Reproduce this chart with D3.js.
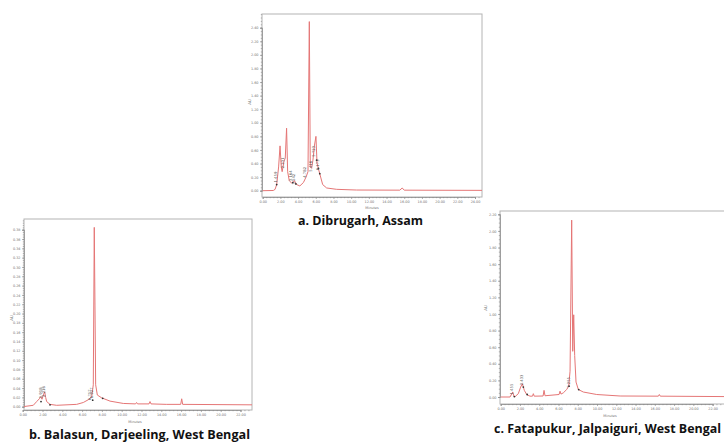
<!DOCTYPE html>
<html>
<head>
<meta charset="utf-8">
<script src="https://cdn.jsdelivr.net/npm/d3@7"></script>
<style>
  body { margin: 0; background: #fff; }
  svg { display: block; }
</style>
</head>
<body>
<div id="chart"></div>
<script>
// ---- data (minutes, AU) ----

// a. Dibrugarh, Assam
const aTime = [0, 1.2, 1.4, 1.58, 1.8, 1.96, 2.1, 2.2, 2.4, 2.55, 2.7, 2.82, 3.0, 3.27, 3.57, 3.84, 4.2, 4.6, 4.9, 5.12, 5.27, 5.38, 5.53, 5.68, 5.83, 6.02, 6.14, 6.28, 6.47, 6.78, 7.23, 8.36, 10.6, 15.5, 15.77, 16.0, 24.8];
const aAU = [0, 0.003, 0.02, 0.09, 0.35, 0.66, 0.35, 0.28, 0.43, 0.48, 0.92, 0.28, 0.15, 0.11, 0.15, 0.09, 0.07, 0.12, 0.2, 0.28, 2.49, 0.35, 0.33, 0.45, 0.65, 0.80, 0.41, 0.33, 0.24, 0.09, 0.04, 0.02, 0.01, 0.008, 0.04, 0.008, 0.005];
const aPeakText = ["1.459", "2.331", "3.164", "3.542", "4.782", "5.416", "5.723", "6.173"];
const aPeakTime = [1.58, 2.45, 3.3, 3.7, 4.95, 5.6, 5.9, 6.35];
const aPeakAU = [0.12, 0.33, 0.14, 0.09, 0.19, 0.28, 0.50, 0.30];
const aMarkTime = [1.58, 3.4, 3.75, 6.1, 6.3, 6.45];
const aMarkAU = [0.09, 0.12, 0.1, 0.45, 0.33, 0.25];
const aXTicks = [0, 2, 4, 6, 8, 10, 12, 14, 16, 18, 20, 22, 24];
const aYTicks = [0, 0.2, 0.4, 0.6, 0.8, 1.0, 1.2, 1.4, 1.6, 1.8, 2.0, 2.2, 2.4];

// b. Balasun, Darjeeling, West Bengal
const bTime = [0, 1.07, 1.41, 1.68, 1.82, 1.95, 2.12, 2.22, 2.32, 2.42, 2.76, 3.43, 5.45, 6.12, 6.63, 6.97, 7.13, 7.23, 7.37, 7.54, 7.98, 8.82, 10.16, 11.4, 11.5, 11.6, 12.76, 12.86, 12.96, 14.5, 15.96, 16.06, 16.16, 23.2];
const bAU = [0, 0.003, 0.011, 0.017, 0.0215, 0.016, 0.027, 0.032, 0.02, 0.011, 0.005, 0.003, 0.005, 0.009, 0.015, 0.022, 0.047, 0.385, 0.047, 0.025, 0.019, 0.012, 0.007, 0.006, 0.009, 0.006, 0.006, 0.011, 0.006, 0.005, 0.005, 0.017, 0.005, 0.004];
const bPeakText = ["1.918", "2.216", "6.757", "6.927"];
const bPeakTime = [1.95, 2.3, 6.85, 7.1];
const bPeakAU = [0.018, 0.021, 0.014, 0.018];
const bMarkTime = [1.85, 2.76, 7.07, 8.08];
const bMarkAU = [0.011, 0.004, 0.014, 0.018];
const bXTicks = [0, 2, 4, 6, 8, 10, 12, 14, 16, 18, 20, 22];
const bYTicks = [0, 0.02, 0.04, 0.06, 0.08, 0.10, 0.12, 0.14, 0.16, 0.18, 0.20, 0.22, 0.24, 0.26, 0.28, 0.30, 0.32, 0.34, 0.36, 0.38];

// c. Fatapukur, Jalpaiguri, West Bengal
const cTime = [0, 0.97, 1.25, 1.38, 1.5, 1.83, 2.07, 2.25, 2.45, 2.7, 3.04, 3.3, 3.39, 3.48, 4.4, 4.5, 4.6, 6.06, 6.16, 6.26, 6.5, 6.85, 7.06, 7.2, 7.37, 7.48, 7.58, 7.68, 7.82, 8.06, 8.58, 9.97, 12.4, 16.37, 16.47, 16.57, 23.2];
const cAU = [0, 0, 0.06, 0.005, 0.005, 0.04, 0.12, 0.16, 0.08, 0.03, 0.01, 0.01, 0.04, 0.01, 0.012, 0.08, 0.015, 0.03, 0.07, 0.035, 0.05, 0.09, 0.13, 0.31, 2.13, 0.55, 0.99, 0.5, 0.18, 0.09, 0.06, 0.03, 0.012, 0.01, 0.03, 0.01, 0.005];
const cPeakText = ["1.455", "2.433", "7.255"];
const cPeakTime = [1.3, 2.3, 7.15];
const cPeakAU = [0.03, 0.14, 0.11];
const cMarkTime = [1.42, 2.35, 2.75, 7.1, 8.1];
const cMarkAU = [0.005, 0.12, 0.03, 0.13, 0.09];
const cXTicks = [0, 2, 4, 6, 8, 10, 12, 14, 16, 18, 20, 22];
const cYTicks = [0, 0.2, 0.4, 0.6, 0.8, 1.0, 1.2, 1.4, 1.6, 1.8, 2.0, 2.2];

// ---- layout ----
const svg = d3.select("#chart")
    .append("svg")
    .attr("width", 724)
    .attr("height", 443);

const traceColor = "#e57676";
const fmt = d3.format(".2f");

function drawPanel(p) {
    const x = d3.scaleLinear().domain([0, p.xMaxTick]).range([p.x0, p.xMaxPx]);
    const y = d3.scaleLinear().domain([0, p.yMaxTick]).range([p.y0, p.yMaxPx]);
    const xEnd = x.invert(p.right);

    const g = svg.append("g");

    // plot frame
    g.append("rect")
        .attr("x", p.left).attr("y", p.top)
        .attr("width", p.right - p.left).attr("height", p.bottom - p.top)
        .attr("fill", "none")
        .attr("stroke", "#b4b4b4")
        .attr("stroke-width", 1);

    // x axis (major + minor ticks)
    g.append("g")
        .attr("transform", `translate(0,${p.bottom})`)
        .call(d3.axisBottom(x).tickValues(p.xTicks).tickFormat(fmt).tickSize(2).tickPadding(1.2));
    g.append("g")
        .attr("transform", `translate(0,${p.bottom})`)
        .call(d3.axisBottom(x).tickValues(d3.range(0, xEnd, 0.4)).tickFormat("").tickSize(1.2));

    // y axis
    g.append("g")
        .attr("transform", `translate(${p.left},0)`)
        .call(d3.axisLeft(y).tickValues(p.yTicks).tickFormat(fmt).tickSize(2).tickPadding(1.5));
    g.append("g")
        .attr("transform", `translate(${p.left},0)`)
        .call(d3.axisLeft(y).tickValues(d3.range(0, y.invert(p.top), p.yMinor)).tickFormat("").tickSize(1.2));

    g.selectAll(".domain").attr("stroke", "#9a9a9a").attr("stroke-width", 0.8);
    g.selectAll(".tick line").attr("stroke", "#8a8a8a").attr("stroke-width", 0.6);
    g.selectAll(".tick text")
        .attr("fill", "#707070")
        .style("font-family", "DejaVu Sans, sans-serif")
        .style("font-size", "3.4px");

    // axis titles
    g.append("text")
        .attr("transform", `translate(${p.auX},${p.auY}) rotate(-90)`)
        .attr("text-anchor", "middle")
        .attr("fill", "#707070")
        .style("font-family", "DejaVu Sans, sans-serif")
        .style("font-size", "4px")
        .text("AU");
    g.append("text")
        .attr("x", p.minX).attr("y", p.minY)
        .attr("text-anchor", "middle")
        .attr("fill", "#707070")
        .style("font-family", "DejaVu Sans, sans-serif")
        .style("font-size", "3.4px")
        .text("Minutes");

    // trace
    const pts = p.time.map((t, i) => [t, p.au[i]]);
    const clipId = "clip" + p.id;
    svg.append("clipPath").attr("id", clipId)
        .append("rect")
        .attr("x", p.left).attr("y", 0)
        .attr("width", p.right - p.left).attr("height", p.bottom);

    g.append("path")
        .datum(pts)
        .attr("clip-path", `url(#${clipId})`)
        .attr("fill", "none")
        .attr("stroke", traceColor)
        .attr("stroke-width", 1)
        .attr("stroke-linejoin", "round")
        .attr("d", d3.line().x(d => x(d[0])).y(d => y(d[1])));

    // integration marks
    g.selectAll(null)
        .data(p.markTime)
        .join("circle")
        .attr("cx", d => x(d))
        .attr("cy", (d, i) => y(p.markAU[i]))
        .attr("r", 0.9)
        .attr("fill", "#333");

    // peak labels (vertical)
    g.selectAll(null)
        .data(p.peakText)
        .join("text")
        .attr("transform", (d, i) => `translate(${x(p.peakTime[i])},${y(p.peakAU[i])}) rotate(-90)`)
        .attr("fill", "#555")
        .style("font-family", "DejaVu Sans, sans-serif")
        .style("font-size", "3.8px")
        .text(d => d);

    // panel caption
    svg.append("text")
        .attr("x", p.titleX).attr("y", p.titleY)
        .attr("textLength", p.titleW)
        .attr("lengthAdjust", "spacingAndGlyphs")
        .attr("fill", "#111")
        .style("font-family", "'Open Sans', sans-serif")
        .style("font-weight", "bold")
        .style("font-size", "13px")
        .text(p.title);
}

drawPanel({
    id: "a", time: aTime, au: aAU,
    peakText: aPeakText, peakTime: aPeakTime, peakAU: aPeakAU,
    markTime: aMarkTime, markAU: aMarkAU,
    xTicks: aXTicks, yTicks: aYTicks, xMaxTick: 24, yMaxTick: 2.4, yMinor: 0.05,
    x0: 262.7, xMaxPx: 475, y0: 190.7, yMaxPx: 27.7,
    left: 262, right: 482, top: 14, bottom: 197,
    auX: 251, auY: 102, minX: 372, minY: 209,
    title: "a. Dibrugarh, Assam", titleX: 298, titleY: 225, titleW: 125
});

drawPanel({
    id: "b", time: bTime, au: bAU,
    peakText: bPeakText, peakTime: bPeakTime, peakAU: bPeakAU,
    markTime: bMarkTime, markAU: bMarkAU,
    xTicks: bXTicks, yTicks: bYTicks, xMaxTick: 22, yMaxTick: 0.38, yMinor: 0.005,
    x0: 22.7, xMaxPx: 240.5, y0: 406.7, yMaxPx: 229.7,
    left: 24, right: 252, top: 219, bottom: 410,
    auX: 13, auY: 318, minX: 135, minY: 422.5,
    title: "b. Balasun, Darjeeling, West Bengal", titleX: 29, titleY: 439, titleW: 221
});

drawPanel({
    id: "c", time: cTime, au: cAU,
    peakText: cPeakText, peakTime: cPeakTime, peakAU: cPeakAU,
    markTime: cMarkTime, markAU: cMarkAU,
    xTicks: cXTicks, yTicks: cYTicks, xMaxTick: 22, yMaxTick: 2.2, yMinor: 0.05,
    x0: 500.7, xMaxPx: 712.6, y0: 397, yMaxPx: 214.3,
    left: 500, right: 740, top: 211, bottom: 404,
    auX: 487, auY: 308, minX: 610, minY: 416.5,
    title: "c. Fatapukur, Jalpaiguri, West Bengal", titleX: 494, titleY: 433, titleW: 227
});
</script>
</body>
</html>
